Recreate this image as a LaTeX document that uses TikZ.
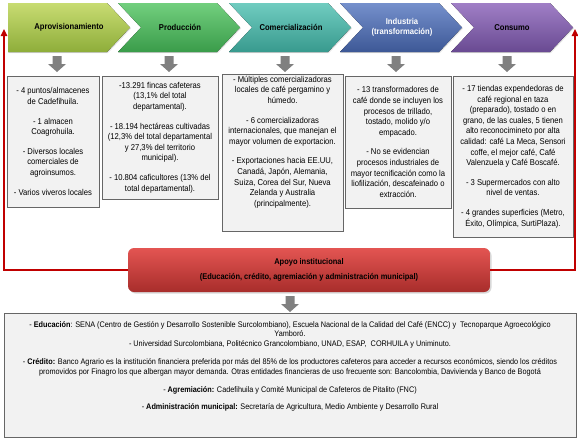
\documentclass[tikz,border=0pt]{standalone}
\usepackage{fontspec}
\setmainfont{Liberation Sans}[FakeStretch=0.9]
\usetikzlibrary{shadows,arrows.meta}
\definecolor{cAt}{HTML}{C8DC72}\definecolor{cAb}{HTML}{8EAD3A}
\definecolor{cBt}{HTML}{72CF7E}\definecolor{cBb}{HTML}{3A9C4A}
\definecolor{cCt}{HTML}{70CCC0}\definecolor{cCb}{HTML}{389A8E}
\definecolor{cDt}{HTML}{7590CC}\definecolor{cDb}{HTML}{3D5896}
\definecolor{cEt}{HTML}{A07FC6}\definecolor{cEb}{HTML}{694A92}
\definecolor{redln}{HTML}{C00000}
\definecolor{apT}{HTML}{E35552}\definecolor{apB}{HTML}{A82D2B}
\definecolor{boxfill}{HTML}{F2F2F2}
\definecolor{boxline}{HTML}{666666}
\definecolor{arrgray}{HTML}{808080}
\newcommand{\mychev}[3]{%
  \fill[top color=#2, bottom color=#3, drop shadow={shadow xshift=1pt,shadow yshift=-1pt,fill=gray!40}]
    (#1,3) -- ++(99,0) -- ++(23,24.5) -- ++(-23,24.5) -- ++(-99,0) -- ++(23,-24.5) -- cycle;}
\newcommand{\mydownarrow}[2]{%
  \fill[arrgray] (#1-4.5,#2) -- (#1+4.5,#2) -- (#1+4.5,#2+8) -- (#1+9,#2+8) -- (#1,#2+16) -- (#1-9,#2+8) -- (#1-4.5,#2+8) -- cycle;}
\begin{document}
\begin{tikzpicture}[x=1pt,y=-1pt,
  chevtext/.style={font=\fontsize{8.5}{10}\selectfont\bfseries, align=center, inner sep=0pt},
  infobox/.style={draw=boxline, fill=boxfill, line width=0.8pt, align=center, inner sep=2pt,
     font=\fontsize{8.5}{10.6}\selectfont,
     drop shadow={shadow xshift=1.2pt,shadow yshift=-1.2pt,fill=gray!55}},
  redline/.style={draw=redln, line width=1.6pt, -{Triangle[length=7pt,width=6.5pt]}}
]
\useasboundingbox (0,0) rectangle (578,442);
% chevrons
\fill[top color=cAt, bottom color=cAb, drop shadow={shadow xshift=1pt,shadow yshift=-1pt,fill=gray!40}]
  (8,3) -- (107,3) -- (130,27.5) -- (107,52) -- (8,52) -- cycle;
\mychev{118}{cBt}{cBb}
\mychev{229}{cCt}{cCb}
\mychev{340}{cDt}{cDb}
\mychev{451}{cEt}{cEb}
\node[chevtext] (c1) at (69,27.5) {Aprovisionamiento};
\node[chevtext] (c2) at (180,27.5) {Producción};
\node[chevtext] (c3) at (291,27.5) {Comercialización};
\node[chevtext, text=white] (c4) at (402,27.5) {Industria\\(transformación)};
\node[chevtext] (c5) at (512,27.5) {Consumo};
% gray arrows
\mydownarrow{57}{56}
\mydownarrow{169}{56}
\mydownarrow{285}{56}
\mydownarrow{396}{56}
\mydownarrow{507}{56}
% boxes
\node[infobox, minimum width=92pt, minimum height=131pt] (b1) at (53,141.5)
 {- 4 puntos/almacenes\\de Cadefihuila.\\[9pt]- 1 almacen\\Coagrohuila.\\[9pt]- Diversos locales\\comerciales de\\agroinsumos.\\[9pt]- Varios viveros locales};
\node[infobox, minimum width=116pt, minimum height=123pt] (b2) at (160,137.5)
 {-13.291 fincas cafeteras\\(13,1\% del total\\departamental).\\[9pt]- 18.194 hectáreas cultivadas\\(12,3\% del total departamental\\y 27,3\% del territorio\\municipal).\\[9pt]- 10.804 caficultores (13\% del\\total departamental).};
\node[infobox, minimum width=121pt, minimum height=153pt] (b3) at (282.5,152.5)
 {- Múltiples comercializadoras\\locales de café pergamino y\\húmedo.\\[9pt]- 6 comercializadoras\\internacionales, que manejan el\\mayor volumen de exportacion.\\[9pt]- Exportaciones hacia EE.UU,\\Canadá, Japón, Alemania,\\Suiza,  Corea del Sur,  Nueva\\Zelanda y Australia\\(principalmente).\\[12pt]};
\node[infobox, minimum width=106pt, minimum height=132pt] (b4) at (398,142)
 {- 13 transformadores de\\café donde se incluyen los\\procesos de trillado,\\tostado, molido y/o\\empacado.\\[9pt]- No se evidencian\\procesos industriales de\\mayor tecnificación como la\\liofilización, descafeinado o\\extracción.};
\node[infobox, minimum width=120pt, minimum height=161pt] (b5) at (513,156.5)
 {- 17 tiendas expendedoras de\\café regional en taza\\(preparado), tostado o en\\grano, de las cuales, 5 tienen\\alto reconocimineto por alta\\calidad: café La Meca, Sensori\\coffe, el mejor café, Café\\Valenzuela y Café Boscafé.\\[9pt]- 3 Supermercados con alto\\nivel de ventas.\\[9pt]- 4 grandes superficies (Metro,\\Éxito, Olímpica, SurtiPlaza).};
% apoyo
\node[rounded corners=6pt, top color=apT, bottom color=apB, minimum width=362pt, minimum height=44pt,
  align=center, font=\fontsize{8.3}{15}\selectfont\bfseries,
  drop shadow={shadow xshift=1.5pt,shadow yshift=-1.5pt,fill=gray!60}] (ap) at (309,270)
  {Apoyo institucional\\(Educación, crédito, agremiación y administración municipal)};
\coordinate (lt) at (4,29);
\coordinate (rt) at (575,29);
\draw[redline] (ap.west) -| (lt);
\draw[redline] (ap.east) -| (rt);
\mydownarrow{290}{296}
% bottom box
\node[infobox, minimum width=572pt, minimum height=124pt, font=\fontsize{8.1}{9.6}\selectfont] (bb) at (290,375)
 {- \textbf{Educación}: SENA (Centro de Gestión y Desarrollo Sostenible Surcolombiano), Escuela Nacional de la Calidad del Café (ENCC) y \ Tecnoparque Agroecológico\\
  Yamboró.\\
  - Universidad Surcolombiana, Politécnico Grancolombiano, UNAD, ESAP, \ CORHUILA y Uniminuto.\\[8.5pt]
  - \textbf{Crédito:} Banco Agrario es la institución financiera preferida por más del 85\% de los productores cafeteros para acceder a recursos económicos, siendo los créditos\\
  promovidos por Finagro los que albergan mayor demanda. Otras entidades financieras de uso frecuente son: Bancolombia, Davivienda y Banco de Bogotá\\[8.5pt]
  - \textbf{Agremiación:} Cadefihuila y Comité Municipal de Cafeteros de Pitalito (FNC)\\[7.5pt]
  - \textbf{Administración municipal:} Secretaría de Agricultura, Medio Ambiente y Desarrollo Rural\\[10pt]};
\end{tikzpicture}
\end{document}
